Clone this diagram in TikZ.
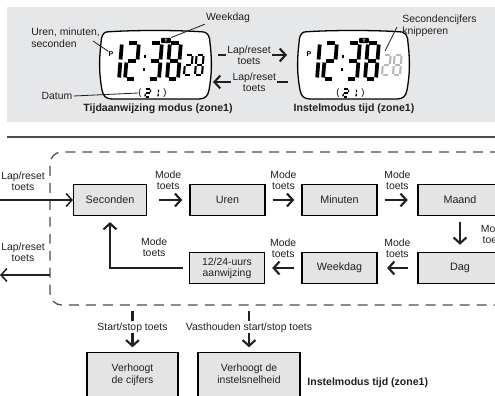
\documentclass[tikz,border=0pt]{standalone}
\usepackage{fontspec}
\setmainfont{Liberation Sans}
\usetikzlibrary{positioning,arrows.meta}

\definecolor{panelgray}{HTML}{E6E7E8}
\definecolor{boxgray}{HTML}{E4E4E4}
\definecolor{inkgray}{HTML}{231F20}
\definecolor{rulegray}{HTML}{4D4D4F}
\definecolor{blinkgray}{HTML}{B8B8B8}

\tikzset{
  lbl/.style={font=\fontsize{8.9}{9.6}\selectfont, align=center, inner sep=1pt, text=inkgray},
  caption/.style={font=\bfseries\fontsize{9}{10}\selectfont, text=inkgray, inner sep=1pt},
  stepbox/.style={draw=black, fill=boxgray, line width=1.2pt, minimum width=64pt,
    minimum height=26.5pt, font=\fontsize{9.2}{10}\selectfont, align=center, text=inkgray},
  flow/.style={line width=1.8pt, draw=inkgray, -{Straight Barb[length=5pt,width=11pt]}},
  leader/.style={draw=inkgray, line width=0.7pt},
  zonedash/.style={draw=rulegray, line width=1.1pt, dash pattern=on 8.5pt off 6pt},
  lcdframe/.style={draw=black, fill=white, line width=1.1pt}
}

% seven segment digit: [style] {origin at bottom left} {width} {height} {segments}
% 1 top, 2 upper right, 3 lower right, 4 bottom, 5 lower left, 6 upper left, 7 middle
\newcommand{\segdigit}[5][]{%
  \begin{scope}[shift={(#2)}, xslant=0.08, line cap=butt, #1]
    \foreach \s in {#5} {
      \ifcase\s
      \or \draw (0,-#4) -- (#3,-#4);
      \or \draw (#3,-#4) -- (#3,-#4/2);
      \or \draw (#3,-#4/2) -- (#3,0);
      \or \draw (0,0) -- (#3,0);
      \or \draw (0,-#4/2) -- (0,0);
      \or \draw (0,-#4) -- (0,-#4/2);
      \or \draw (0,-#4/2) -- (#3,-#4/2);
      \fi
    }
  \end{scope}}

\begin{document}
\begin{tikzpicture}[x={(0.03cm,0)}, y={(0,-0.03cm)}]
    \useasboundingbox (0,0) rectangle (495,396);
    \clip (0,0) rectangle (495,396);

    % Upper panel and rule
    \fill[panelgray] (7,7) rectangle (497,122);
    \draw[rulegray, line width=1.8pt] (7,137) -- (497,137);

    % The two displays
    \foreach \name/\dx/\seccol in {tijd/0/black, instel/198/blinkgray} {
      \begin{scope}[shift={(\dx,0)}]
        \draw[lcdframe] (106,32) .. controls (130,30) and (180,30) .. (204,32)
          .. controls (208,33) and (210,37) .. (210,43)
          .. controls (212,60) and (212,74) .. (209,90)
          .. controls (208,96) and (205,99) .. (199,99)
          -- (112,99)
          .. controls (106,99) and (103,96) .. (102,90)
          .. controls (99,74) and (99,60) .. (101,43)
          .. controls (101,37) and (103,33) .. (106,32) -- cycle;
        \node[font=\bfseries\fontsize{6}{6}\selectfont, inner sep=0] (\name-p) at (111,54) {P};
        \node[fill=black, text=white, rounded corners=0.8pt, inner sep=0, minimum width=8.5pt,
          minimum height=4.6pt, font=\bfseries\fontsize{4}{4}\selectfont] (\name-t) at (166,40.5) {T};
        % hours and minutes
        \segdigit[line width=3.2pt, shorten <=1.3pt, shorten >=1.3pt]{108,79}{11}{36}{2,3}
        \segdigit[line width=3.2pt, shorten <=1.3pt, shorten >=1.3pt]{125,79}{11}{36}{1,2,7,5,4}
        \segdigit[line width=3.2pt, shorten <=1.3pt, shorten >=1.3pt]{148,79}{11}{36}{1,2,7,3,4}
        \segdigit[line width=3.2pt, shorten <=1.3pt, shorten >=1.3pt]{167,79}{11}{36}{1,2,3,4,5,6,7}
        \fill (143.5,55) rectangle +(2.6,2.6);
        \fill (142.5,68) rectangle +(2.6,2.6);
        % seconds
        \segdigit[line width=1.8pt, shorten <=0.9pt, shorten >=0.9pt, color=\seccol]{184,75}{7}{20}{1,2,7,5,4}
        \segdigit[line width=1.8pt, shorten <=0.9pt, shorten >=0.9pt, color=\seccol]{195,75}{7}{20}{1,2,3,4,5,6,7}
        % date
        \node[inner sep=0, font=\fontsize{8}{8}\selectfont] (\name-lp) at (140,93) {(};
        \segdigit[line width=1.1pt, shorten <=0.5pt, shorten >=0.5pt]{145,97}{5}{8}{1,2,7,5,4}
        \segdigit[line width=1.1pt, shorten <=0.5pt, shorten >=0.5pt]{153,97}{5}{8}{2,3}
        \node[inner sep=0, font=\fontsize{8}{8}\selectfont] (\name-rp) at (165,93) {)};
      \end{scope}
    }

    % Labels of the time display
    \node[lbl, align=left, anchor=north west] (urenlbl) at (30,27) {Uren, minuten,\\seconden};
    \coordinate (urenfrom) at (93,41);
    \draw[leader] (urenfrom) -- (tijd-p.north west);
    \node[lbl] (weekdag) at (228,18) {Weekdag};
    \draw[leader] (weekdag.south west) -- (tijd-t.north east);
    \node[lbl] (datum) at (57,96) {Datum};
    \draw[leader] (datum.east) -- (tijd-lp.west);
    \node[caption] (tijdcap) at (158,108.5) {Tijdaanwijzing modus (zone1)};

    % Labels of the setting display
    \node[lbl, align=left, anchor=north west] (knipper) at (401,14) {Secondencijfers\\knipperen};
    \coordinate (knipfrom) at (397,27);
    \coordinate (knipto) at (385,51);
    \draw[leader] (knipfrom) -- (knipto);
    \node[caption] (instelcap) at (354,108.5) {Instelmodus tijd (zone1)};

    % Lap/reset between the displays
    \coordinate (lapA) at (218,55);
    \coordinate (lapB) at (287,55);
    \coordinate (lapC) at (288,82);
    \coordinate (lapD) at (213,82);
    \draw[flow] (lapA) -- (lapB) node[lbl, pos=0.45, fill=panelgray] (lapreset1) {Lap/reset\\toets};
    \draw[flow] (lapC) -- (lapD) node[lbl, pos=0.45, fill=panelgray] (lapreset2) {Lap/reset\\toets};

    % Dashed zone
    \draw[zonedash, rounded corners=10pt] (500,152) -- (50,152) -- (50,305) -- (500,305);

    % Setting steps
    \node[stepbox, minimum width=62pt] (sec) at (110,200) {Seconden};
    \node[stepbox] (uren) at (227.5,200) {Uren};
    \node[stepbox] (minuten) at (339.5,200) {Minuten};
    \node[stepbox, minimum width=72pt] (maand) at (460,200) {Maand};
    \node[stepbox, minimum width=72pt] (dag) at (460,268) {Dag};
    \node[stepbox] (weekdagbox) at (339.5,268) {Weekdag};
    \node[stepbox, font=\fontsize{8.9}{9.6}\selectfont] (uurs) at (227,268) {12/24-uurs\\aanwijzing};

    % Mode key arrows
    \draw[flow, shorten <=10pt, shorten >=6pt] (sec) -- (uren) node[lbl, midway, above=7pt] (mode1) {Mode\\toets};
    \draw[flow, shorten <=6pt, shorten >=6pt] (uren) -- (minuten) node[lbl, midway, above=7pt] (mode2) {Mode\\toets};
    \draw[flow, shorten <=6pt, shorten >=8pt] (minuten) -- (maand) node[lbl, midway, above=7pt] (mode3) {Mode\\toets};
    \draw[flow, shorten <=5pt, shorten >=6pt] (maand) -- (dag) node[lbl, midway, right=16pt] (mode4) {Mode\\toets};
    \draw[flow, shorten <=8pt, shorten >=8pt] (dag) -- (weekdagbox) node[lbl, midway, above=7pt] (mode5) {Mode\\toets};
    \draw[flow, shorten <=6pt, shorten >=6pt] (weekdagbox) -- (uurs) node[lbl, midway, above=7pt] (mode6) {Mode\\toets};
    \draw[flow, shorten <=5pt, shorten >=5pt] (uurs.west) -| (sec.south) node[lbl, pos=0.22, above=8pt] (mode7) {Mode\\toets};

    % Lap/reset in and out of the zone
    \coordinate (lapin) at (-2,200);
    \coordinate (lapout) at (50,275);
    \coordinate (lapend) at (0,275);
    \draw[flow, line width=1.3pt] (lapin) -- (sec.west);
    \node[lbl] (lapinlbl) at (23,181) {Lap/reset\\toets};
    \draw[flow, line width=1.3pt] (lapout) -- (lapend);
    \node[lbl] (lapoutlbl) at (23,252) {Lap/reset\\toets};

    % Start/stop key
    \node[stepbox, anchor=north, minimum width=77.7pt, inner ysep=10pt, text depth=25pt,
      font=\fontsize{8.9}{9.6}\selectfont] (cijfers) at (132.5,352) {Verhoogt\\de cijfers};
    \node[stepbox, anchor=north, minimum width=87pt, inner ysep=10pt, text depth=25pt,
      font=\fontsize{8.9}{9.6}\selectfont] (snelheid) at (249,352) {Verhoogt de\\instelsnelheid};
    \coordinate (start1) at (132.5,311);
    \coordinate (start2) at (249,311);
    \draw[flow, shorten >=4pt] (start1) -- (cijfers.north) node[lbl, pos=0.4, fill=white] (startstop) {Start/stop toets};
    \draw[flow, shorten >=4pt] (start2) -- (snelheid.north) node[lbl, pos=0.4, fill=white] (vasthouden) {Vasthouden start/stop toets};
    \node[caption, anchor=west] (instelcap2) at (306,383) {Instelmodus tijd (zone1)};
\end{tikzpicture}
\end{document}
